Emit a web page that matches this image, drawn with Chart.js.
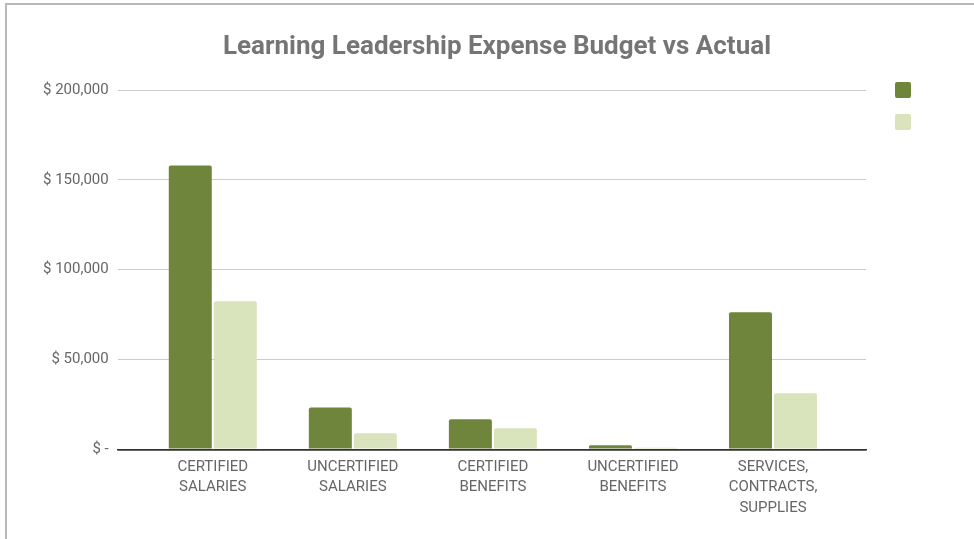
<!DOCTYPE html>
<html>
<head>
<meta charset="utf-8">
<script src="https://cdn.jsdelivr.net/npm/chart.js@4.4.1/dist/chart.umd.min.js"></script>
<style>
  html, body { margin: 0; padding: 0; background: #fff; }
  #wrap { position: relative; width: 974px; height: 539px; overflow: hidden; }
  #frame { position: absolute; left: 5px; top: 3px; right: 0; bottom: 0; border-left: 2px solid #b9b9b9; border-top: 2px solid #b9b9b9; pointer-events: none; }
  canvas { position: absolute; left: 0; top: 0; }
</style>
</head>
<body>
<div id="wrap">
  <canvas id="budget-chart" width="974" height="539"></canvas>
  <div id="frame"></div>
</div>
<script>
// ===== Expense data =====
const categories = [
    ['CERTIFIED', 'SALARIES'],
    ['UNCERTIFIED', 'SALARIES'],
    ['CERTIFIED', 'BENEFITS'],
    ['UNCERTIFIED', 'BENEFITS'],
    ['SERVICES,', 'CONTRACTS,', 'SUPPLIES']
];
const budget = [158000, 23300, 16700, 2200, 76300];
const actual = [82400, 8900, 11700, 800, 31200];
const yTicks = [0, 50000, 100000, 150000, 200000];

const DARK = '#6f853c';
const LIGHT = '#d9e4bd';
const TEXT = '#666666';

const toPoints = arr => arr.map((v, i) => ({ x: i, y: v }));
const money = v => v === 0 ? '$ -' : '$ ' + v.toLocaleString('en-US');

// legend: two swatches, no captions, in the reserved right-hand strip
const swatchLegend = {
    id: 'swatchLegend',
    afterDraw(chart) {
        const ctx = chart.ctx;
        const x = chart.chartArea.right + 29;
        chart.data.datasets.forEach((ds, i) => {
            ctx.save();
            ctx.fillStyle = ds.backgroundColor;
            ctx.beginPath();
            ctx.roundRect(x, 82 + i * 32, 16, 16, 2);
            ctx.fill();
            ctx.restore();
        });
    }
};

new Chart(document.getElementById('budget-chart'), {
    type: 'bar',
    data: {
        datasets: [
            { label: '', data: toPoints(budget), backgroundColor: DARK, borderRadius: 2, borderSkipped: 'bottom' },
            { label: '', data: toPoints(actual), backgroundColor: LIGHT, borderRadius: 2, borderSkipped: 'bottom' }
        ]
    },
    options: {
        responsive: false,
        animation: false,
        events: [],
        categoryPercentage: 0.643,
        barPercentage: 0.955,
        layout: { padding: { left: 34, right: 14, top: 0, bottom: 13 } },
        scales: {
            x: {
                type: 'linear',
                offset: false,
                min: -0.679,
                max: 4.664,
                afterBuildTicks: axis => { axis.ticks = categories.map((c, i) => ({ value: i })); },
                ticks: {
                    autoSkip: false, maxRotation: 0, padding: 8,
                    color: TEXT, font: { family: 'Roboto', size: 15, lineHeight: 1.35 },
                    callback: v => categories[v]
                },
                grid: { display: false, drawTicks: false },
                border: { display: true, color: '#333333', width: 1.5 }
            },
            y: {
                min: 0, max: 200000,
                afterBuildTicks: axis => { axis.ticks = yTicks.map(v => ({ value: v })); },
                ticks: { padding: 9, color: TEXT, font: { family: 'Roboto', size: 15 }, callback: money },
                grid: { color: ctx => ctx.tick && ctx.tick.value === 0 ? '#333333' : '#cccccc', lineWidth: ctx => ctx.tick && ctx.tick.value === 0 ? 1.5 : 1, drawTicks: false },
                border: { display: false }
            },
            // empty strip on the right that holds the legend swatches
            legendStrip: {
                type: 'linear',
                position: 'right',
                display: true,
                grid: { display: false, drawTicks: false },
                border: { display: false },
                ticks: { display: false },
                afterFit: axis => { axis.width = 94; }
            }
        },
        plugins: {
            legend: { display: false },
            tooltip: { enabled: false },
            title: {
                display: true,
                text: 'Learning Leadership Expense Budget vs Actual',
                color: '#757575',
                font: { family: 'Roboto', size: 26, weight: 'bold' },
                padding: { top: 32, bottom: 27 }
            }
        }
    },
    plugins: [swatchLegend]
});
</script>
</body>
</html>
